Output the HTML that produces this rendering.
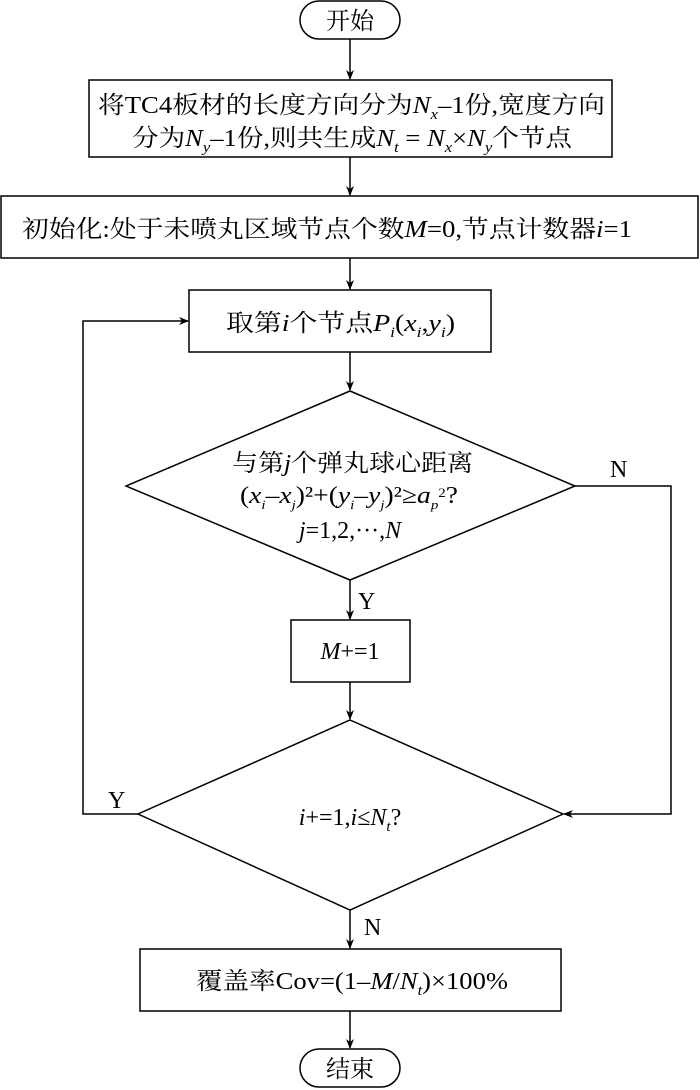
<!DOCTYPE html>
<html><head><meta charset="utf-8"><style>
html,body{margin:0;padding:0;background:#fff}
svg{display:block}
text{font-family:"Liberation Serif","Noto Serif CJK SC","Noto Sans CJK SC",serif;font-size:24px;fill:#000}
.i{font-style:italic}
</style></head><body>
<svg width="700" height="1090" viewBox="0 0 700 1090" xmlns="http://www.w3.org/2000/svg">
<defs><marker id="a" markerWidth="10" markerHeight="10" refX="9" refY="5" orient="auto" markerUnits="userSpaceOnUse"><path d="M0,1 L10,5 L0,9 L3,5 Z" fill="#000"/></marker></defs>
<g fill="none" stroke="#000" stroke-width="1.5">
<rect x="300" y="1" width="100" height="38" rx="19"/>
<rect x="89" y="80" width="523" height="77"/>
<rect x="1" y="196" width="697" height="62"/>
<rect x="189" y="290" width="302" height="62"/>
<polygon points="350,391 575,486 350,580 126,486"/>
<rect x="291" y="620" width="119" height="62"/>
<polygon points="350,720 563,814 350,910 138,814"/>
<rect x="140" y="949" width="421" height="62"/>
<rect x="300" y="1049" width="100" height="38" rx="19"/>
<line x1="350" y1="39" x2="350" y2="79" marker-end="url(#a)"/>
<line x1="350" y1="157" x2="350" y2="195" marker-end="url(#a)"/>
<line x1="350" y1="258" x2="350" y2="289" marker-end="url(#a)"/>
<line x1="350" y1="352" x2="350" y2="390" marker-end="url(#a)"/>
<line x1="350" y1="580" x2="350" y2="619" marker-end="url(#a)"/>
<line x1="350" y1="682" x2="350" y2="719" marker-end="url(#a)"/>
<line x1="350" y1="910" x2="350" y2="948" marker-end="url(#a)"/>
<line x1="350" y1="1011" x2="350" y2="1048" marker-end="url(#a)"/>
<polyline points="575,486 671,486 671,814 564,814" marker-end="url(#a)"/>
<polyline points="138,814 83,814 83,321 188,321" marker-end="url(#a)"/>
</g>
<text x="350" y="29" text-anchor="middle">开始</text>
<text x="98" y="113" textLength="507" lengthAdjust="spacingAndGlyphs">将TC4板材的长度方向分为<tspan class="i">N</tspan><tspan class="i" font-size="15" dy="6">x</tspan><tspan dy="-6">–1份,宽度方向</tspan></text>
<text x="132" y="146" textLength="440" lengthAdjust="spacingAndGlyphs">分为<tspan class="i">N</tspan><tspan class="i" font-size="15" dy="6">y</tspan><tspan dy="-6">–1份,则共生成</tspan><tspan class="i">N</tspan><tspan class="i" font-size="15" dy="6">t</tspan><tspan dy="-6"> = </tspan><tspan class="i">N</tspan><tspan class="i" font-size="15" dy="6">x</tspan><tspan dy="-6">×</tspan><tspan class="i">N</tspan><tspan class="i" font-size="15" dy="6">y</tspan><tspan dy="-6">个节点</tspan></text>
<text x="22" y="237" textLength="610" lengthAdjust="spacingAndGlyphs">初始化:处于未喷丸区域节点个数<tspan class="i">M</tspan>=0,节点计数器<tspan class="i">i</tspan>=1</text>
<text x="226" y="331" textLength="229" lengthAdjust="spacingAndGlyphs">取第<tspan class="i">i</tspan>个节点<tspan class="i">P</tspan><tspan class="i" font-size="15" dy="6">i</tspan><tspan dy="-6">(</tspan><tspan class="i">x</tspan><tspan class="i" font-size="15" dy="6">i</tspan><tspan dy="-6">,</tspan><tspan class="i">y</tspan><tspan class="i" font-size="15" dy="6">i</tspan><tspan dy="-6">)</tspan></text>
<text x="232" y="471" textLength="241" lengthAdjust="spacingAndGlyphs">与第<tspan class="i">j</tspan>个弹丸球心距离</text>
<text x="240" y="503" textLength="218" lengthAdjust="spacingAndGlyphs">(<tspan class="i">x</tspan><tspan class="i" font-size="13" dy="6">i</tspan><tspan dy="-6">–</tspan><tspan class="i">x</tspan><tspan class="i" font-size="13" dy="6">j</tspan><tspan dy="-6">)²+(</tspan><tspan class="i">y</tspan><tspan class="i" font-size="13" dy="6">i</tspan><tspan dy="-6">–</tspan><tspan class="i">y</tspan><tspan class="i" font-size="13" dy="6">j</tspan><tspan dy="-6">)²≥</tspan><tspan class="i">a</tspan><tspan class="i" font-size="13" dy="6">p</tspan><tspan font-size="13" dy="-12">2</tspan><tspan dy="6">?</tspan></text>
<text x="350" y="538" text-anchor="middle"><tspan class="i">j</tspan>=1,2,···,<tspan class="i">N</tspan></text>
<text x="610" y="477">N</text>
<text x="358" y="609">Y</text>
<text x="350" y="659" text-anchor="middle"><tspan class="i">M</tspan>+=1</text>
<text x="108" y="808">Y</text>
<text x="350" y="825" text-anchor="middle"><tspan class="i">i</tspan>+=1,<tspan class="i">i</tspan>≤<tspan class="i">N</tspan><tspan class="i" font-size="15" dy="6">t</tspan><tspan dy="-6">?</tspan></text>
<text x="364" y="935">N</text>
<text x="196" y="989" textLength="312" lengthAdjust="spacingAndGlyphs">覆盖率Cov=(1–<tspan class="i">M</tspan>/<tspan class="i">N</tspan><tspan class="i" font-size="15" dy="6">t</tspan><tspan dy="-6">)×100%</tspan></text>
<text x="350" y="1077" text-anchor="middle">结束</text>
</svg>
</body></html>
